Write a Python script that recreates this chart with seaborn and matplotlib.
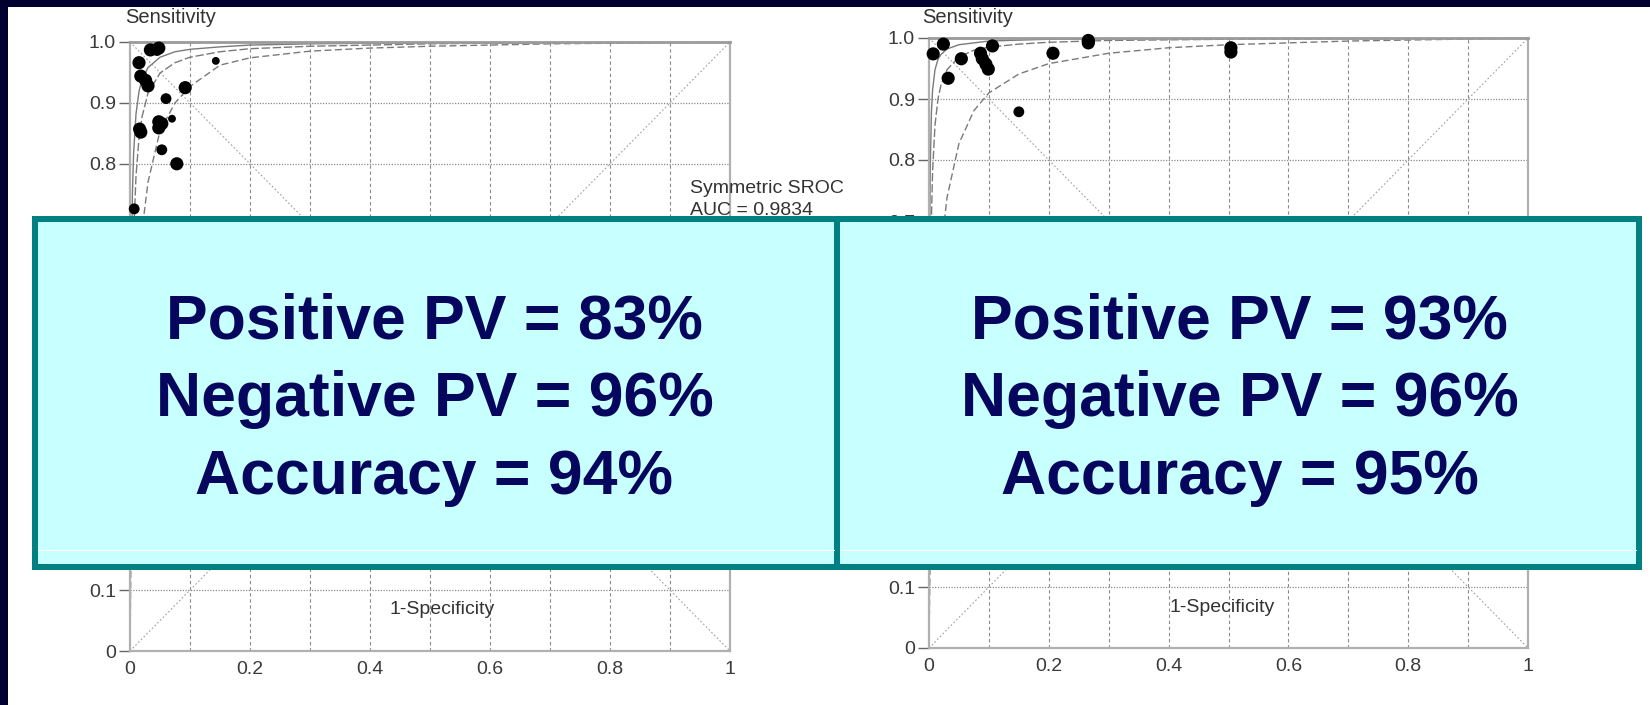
import numpy as np
import pandas as pd
import matplotlib
matplotlib.use("Agg")
import matplotlib.pyplot as plt
import seaborn as sns
from matplotlib.patches import Rectangle
from matplotlib.lines import Line2D

# ---- study points (1-specificity, sensitivity, relative weight) ----
left_fpr = [0.015, 0.018, 0.026, 0.030, 0.034, 0.045, 0.048, 0.018, 0.016, 0.007,
            0.060, 0.048, 0.053, 0.048, 0.070, 0.053, 0.078, 0.092, 0.143]
left_sens = [0.966, 0.944, 0.937, 0.928, 0.987, 0.986, 0.990, 0.852, 0.857, 0.726,
             0.907, 0.869, 0.866, 0.859, 0.874, 0.823, 0.800, 0.925, 0.969]
left_w = [3, 3, 3, 3, 3, 2, 3, 3, 3, 2, 2, 3, 3, 3, 1, 2, 3, 3, 1]

right_fpr = [0.007, 0.024, 0.032, 0.054, 0.086, 0.089, 0.095, 0.099, 0.106, 0.150,
             0.207, 0.266, 0.266, 0.504, 0.504]
right_sens = [0.974, 0.990, 0.934, 0.966, 0.975, 0.966, 0.957, 0.949, 0.987, 0.879,
              0.975, 0.996, 0.992, 0.984, 0.977]
right_w = [3, 3, 3, 3, 3, 3, 3, 3, 3, 2, 3, 3, 3, 3, 3]

# ---- SROC curves (inner, middle, outer) ----
left_a_x = [0, 0.0005, 0.001, 0.002, 0.004, 0.006, 0.01, 0.015, 0.02, 0.03, 0.05, 0.075, 0.1, 0.15, 0.2, 0.3, 0.5, 1.0]
left_a_y = [0, 0.27, 0.425, 0.60, 0.75, 0.817, 0.882, 0.919, 0.938, 0.958, 0.975, 0.984, 0.988, 0.992, 0.995, 0.997, 0.999, 1.0]
left_b_x = [0, 0.0005, 0.001, 0.002, 0.004, 0.006, 0.01, 0.015, 0.02, 0.03, 0.05, 0.075, 0.1, 0.15, 0.2, 0.3, 0.5, 0.7, 1.0]
left_b_y = [0, 0.15, 0.26, 0.41, 0.585, 0.68, 0.78, 0.842, 0.877, 0.916, 0.949, 0.966, 0.975, 0.984, 0.989, 0.993, 0.997, 0.999, 1.0]
left_c_x = [0, 0.001, 0.002, 0.004, 0.006, 0.01, 0.015, 0.02, 0.03, 0.05, 0.075, 0.1, 0.15, 0.2, 0.3, 0.4, 0.5, 0.7, 1.0]
left_c_y = [0, 0.10, 0.18, 0.31, 0.40, 0.53, 0.63, 0.69, 0.77, 0.854, 0.90, 0.927, 0.962, 0.974, 0.985, 0.990, 0.993, 0.997, 1.0]

right_a_x = [0, 0.0002, 0.0005, 0.001, 0.002, 0.004, 0.006, 0.01, 0.015, 0.02, 0.03, 0.05, 0.1, 0.2, 0.5, 1.0]
right_a_y = [0, 0.264, 0.472, 0.642, 0.782, 0.878, 0.915, 0.948, 0.965, 0.973, 0.982, 0.989, 0.995, 0.998, 0.9994, 1.0]
right_b_x = [0, 0.0005, 0.001, 0.002, 0.004, 0.006, 0.01, 0.015, 0.02, 0.03, 0.05, 0.075, 0.1, 0.15, 0.2, 0.3, 0.5, 1.0]
right_b_y = [0, 0.228, 0.372, 0.542, 0.703, 0.781, 0.857, 0.90, 0.923, 0.948, 0.969, 0.98, 0.985, 0.990, 0.993, 0.996, 0.998, 1.0]
right_c_x = [0, 0.001, 0.002, 0.004, 0.006, 0.01, 0.015, 0.02, 0.03, 0.05, 0.075, 0.1, 0.15, 0.2, 0.3, 0.4, 0.5, 0.7, 1.0]
right_c_y = [0, 0.083, 0.154, 0.27, 0.355, 0.479, 0.581, 0.65, 0.738, 0.827, 0.881, 0.91, 0.941, 0.958, 0.975, 0.984, 0.989, 0.995, 1.0]

# ---- text ----
x_ticks = [0, 0.2, 0.4, 0.6, 0.8, 1.0]
x_tick_labels = ["0", "0.2", "0.4", "0.6", "0.8", "1"]
y_ticks = [0, 0.1, 0.2, 0.3, 0.4, 0.5, 0.6, 0.7, 0.8, 0.9, 1.0]
y_tick_labels = ["0", "0.1", "0.2", "0.3", "0.4", "0.5", "0.6", "0.7", "0.8", "0.9", "1.0"]
left_box_lines = ["Positive PV = 83%", "Negative PV = 96%", "Accuracy = 94%"]
right_box_lines = ["Positive PV = 93%", "Negative PV = 96%", "Accuracy = 95%"]

sns.set_style("white")
plt.rcParams["font.family"] = ["Liberation Sans", "DejaVu Sans"]

W, H = 1650, 705
NAVY = "#000030"
TEAL = "#008080"
CYAN = "#c8ffff"
INK = "#06065f"


def px_rect(x0, y0, x1, y1):
    """pixel box (top-left origin) -> figure fraction rect"""
    return [x0 / W, 1 - y1 / H, (x1 - x0) / W, (y1 - y0) / H]


fig = plt.figure(figsize=(W / 100, H / 100), dpi=100, facecolor=NAVY)
fig.patches.append(Rectangle((8 / W, 0), 1 - 8 / W, (H - 7) / H, transform=fig.transFigure,
                             facecolor="white", edgecolor="none", zorder=-5))

ax_l = fig.add_axes(px_rect(130, 42, 730, 651))
ax_r = fig.add_axes(px_rect(929, 38, 1528, 648))


def draw_sroc(ax, fpr, sens, w, curves, sens_xy, spec_xy):
    ax.set_facecolor("white")
    ax.set_xlim(0, 1)
    ax.set_ylim(0, 1)

    # grid
    for gx in np.arange(0.1, 1.0, 0.1):
        ax.axvline(gx, color="#8a8a8a", lw=0.8, ls=(0, (3, 2.5)), zorder=1)
    for gy in np.arange(0.1, 1.0, 0.1):
        ax.axhline(gy, color="#8a8a8a", lw=0.9, ls=(0, (1, 1.2)), zorder=1)

    # diagonals
    ax.plot([0, 1], [0, 1], color="#a0a0a0", lw=0.8, ls=(0, (1.5, 2)), zorder=1)
    ax.plot([0, 1], [1, 0], color="#a0a0a0", lw=0.8, ls=(0, (1.5, 2)), zorder=1)

    # SROC curves
    for (cx, cy), ls in zip(curves, ["-", (0, (6, 2)), (0, (5, 2.5))]):
        sns.lineplot(x=cx, y=cy, ax=ax, sort=False, estimator=None, color="#7a7a7a",
                     lw=1.0, linestyle=ls, zorder=2)

    df = pd.DataFrame({"fpr": fpr, "sens": sens, "w": w})
    sns.scatterplot(data=df, x="fpr", y="sens", size="w", sizes=(32, 90), size_norm=(1, 3),
                    color="black", edgecolor="black", linewidth=0, legend=False, ax=ax,
                    zorder=5, clip_on=False)

    ax.set_xticks(x_ticks)
    ax.set_xticklabels(x_tick_labels)
    ax.set_yticks(y_ticks)
    ax.set_yticklabels(y_tick_labels)
    ax.tick_params(axis="x", length=0, pad=7, labelsize=14, labelcolor="#3a3a3a")
    ax.tick_params(axis="y", length=8, width=1, color="#666666", direction="out", pad=2,
                   labelsize=14, labelcolor="#3a3a3a", left=True)
    ax.set_xlabel("")
    ax.set_ylabel("")

    for side in ["left", "right", "bottom"]:
        ax.spines[side].set_visible(True)
        ax.spines[side].set_color("#b0b0b0")
        ax.spines[side].set_linewidth(1.6)
    ax.spines["top"].set_visible(True)
    ax.spines["top"].set_color("#9a9a9a")
    ax.spines["top"].set_linewidth(2.0)

    ax.text(sens_xy[0], sens_xy[1], "Sensitivity", ha="center", va="center", fontsize=14.5,
            color="#333333", clip_on=False)
    ax.text(spec_xy[0], spec_xy[1], "1-Specificity", ha="center", va="center", fontsize=14,
            color="#333333", zorder=3)


draw_sroc(ax_l, left_fpr, left_sens, left_w,
          [(left_a_x, left_a_y), (left_b_x, left_b_y), (left_c_x, left_c_y)],
          (0.067, 1.041), (0.52, 0.068))
draw_sroc(ax_r, right_fpr, right_sens, right_w,
          [(right_a_x, right_a_y), (right_b_x, right_b_y), (right_c_x, right_c_y)],
          (0.064, 1.033), (0.49, 0.066))

ax_l.text(0.933, 0.760, "Symmetric SROC", ha="left", va="center", fontsize=14,
          color="#333333", clip_on=False)
ax_l.text(0.933, 0.723, "AUC = 0.9834", ha="left", va="center", fontsize=14,
          color="#333333", clip_on=False)

# ---- cyan overlay box ----
bw = 6 * 72 / 100
fig.patches.append(Rectangle((35 / W, 1 - 567 / H), (1639 - 35) / W, (567 - 219) / H,
                             transform=fig.transFigure, facecolor=CYAN, edgecolor=TEAL,
                             linewidth=bw, zorder=10))
fig.lines.append(Line2D([837 / W, 837 / W], [1 - 216 / H, 1 - 570 / H], transform=fig.transFigure,
                        color=TEAL, lw=bw, solid_capstyle="butt", zorder=11))
fig.lines.append(Line2D([38 / W, 834 / W], [1 - 550 / H, 1 - 550 / H], transform=fig.transFigure,
                        color="white", lw=0.8, zorder=11))
fig.lines.append(Line2D([840 / W, 1636 / W], [1 - 550 / H, 1 - 550 / H], transform=fig.transFigure,
                        color="white", lw=0.8, zorder=11))

baselines = [339, 416, 494]
for cx, lines in [(434.5, left_box_lines), (1239.5, right_box_lines)]:
    for by, txt in zip(baselines, lines):
        fig.text(cx / W, 1 - by / H, txt, ha="center", va="baseline", fontsize=45,
                 fontweight="bold", color=INK, zorder=12)

fig.savefig("out.png", dpi=100, facecolor=NAVY)
